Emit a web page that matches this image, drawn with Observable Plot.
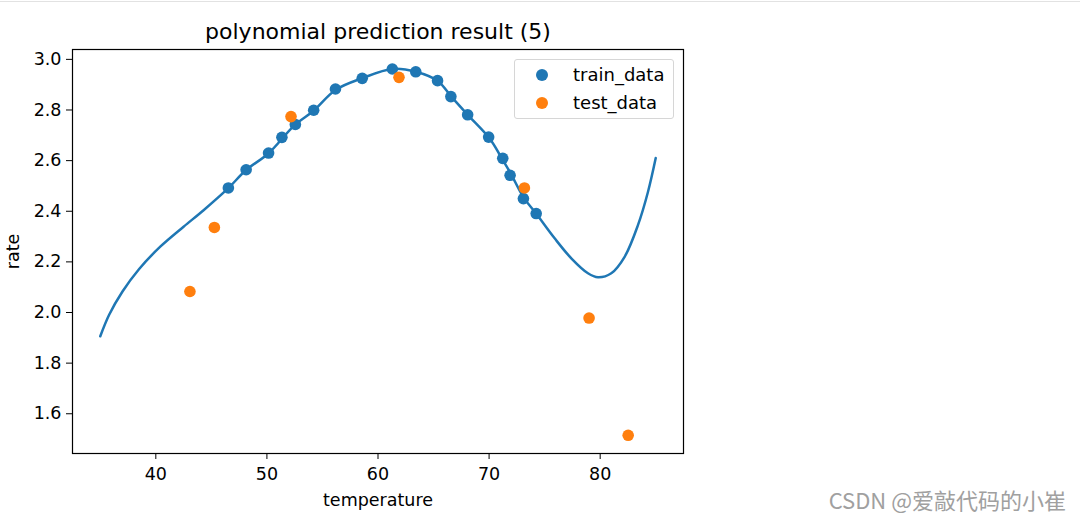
<!DOCTYPE html>
<html>
<head>
<meta charset="utf-8">
<script src="https://cdn.jsdelivr.net/npm/d3@7"></script>
<script src="https://cdn.jsdelivr.net/npm/@observablehq/plot@0.6"></script>
<style>
  html, body { margin: 0; padding: 0; background: #fff; }
  #wrap { position: relative; width: 1080px; height: 519px; overflow: hidden; font-family: "DejaVu Sans", sans-serif; }
  #topline { position: absolute; left: 0; top: 1px; width: 1080px; height: 1px; background: #e2e2e2; }
  #legend { position: absolute; left: 514px; top: 59px; width: 158px; height: 58px; border: 1px solid #d6d6d6; border-radius: 3px; background: rgba(255,255,255,0.8); }
  .lg { position: absolute; left: 0; width: 158px; height: 22px; font-size: 18px; line-height: 22px; color: #000; }
  .lg .mk { position: absolute; left: 21px; top: 5px; width: 12px; height: 12px; border-radius: 50%; }
  .lg .tx { position: absolute; left: 58px; top: 0; }
  #wm { position: absolute; right: 14px; top: 485px; font-size: 22px; line-height: 29px; color: #a0a0a0; font-family: "Noto Sans CJK SC", "DejaVu Sans", sans-serif; white-space: nowrap; }
</style>
</head>
<body>
<div id="wrap">
  <div id="chart"></div>
  <div id="topline"></div>
  <div id="legend">
    <div class="lg" style="top:4px"><span class="mk" style="background:#1f77b4"></span><span class="tx">train_data</span></div>
    <div class="lg" style="top:32px"><span class="mk" style="background:#ff7f0e"></span><span class="tx">test_data</span></div>
  </div>
  <div id="wm">CSDN @爱敲代码的小崔</div>
</div>
<script>
const titleText = "polynomial prediction result (5)";
const xLabel = "temperature";
const yLabel = "rate";
const xTicks = [40, 50, 60, 70, 80];
const yTicks = [1.6, 1.8, 2.0, 2.2, 2.4, 2.6, 2.8, 3.0];

const trainT = [46.53, 48.13, 50.15, 51.35, 52.56, 54.21, 56.17, 58.58, 61.29, 63.40, 65.36, 66.56, 68.07, 69.96, 71.23, 71.89, 73.09, 74.24];
const trainRate = [2.492, 2.564, 2.630, 2.692, 2.743, 2.799, 2.883, 2.925, 2.962, 2.951, 2.916, 2.853, 2.781, 2.693, 2.609, 2.542, 2.450, 2.391];

const testT = [43.07, 45.27, 52.17, 61.89, 73.18, 79.0, 82.52];
const testRate = [2.083, 2.336, 2.774, 2.929, 2.492, 1.978, 1.515];

const curveT = [35, 35.8, 37, 38.5, 40.4, 42.5, 44.3, 46.5, 48.1, 50.1, 52.5, 54.2, 56.2, 58.6, 61.3, 63.4, 65.4, 66.6, 68.1, 70, 71.2, 72, 73.1, 74.2, 75.9, 77.4, 78.9, 79.8, 81, 82.2, 83.4, 84.3, 85];
const curveRate = [1.906, 1.991, 2.083, 2.172, 2.26, 2.339, 2.404, 2.49, 2.562, 2.627, 2.74, 2.797, 2.88, 2.926, 2.962, 2.951, 2.914, 2.853, 2.78, 2.69, 2.605, 2.545, 2.455, 2.393, 2.293, 2.214, 2.155, 2.139, 2.155, 2.22, 2.345, 2.476, 2.61];

const train = trainT.map((t, i) => ({t, r: trainRate[i]}));
const test = testT.map((t, i) => ({t, r: testRate[i]}));
const curve = curveT.map((t, i) => ({t, r: curveRate[i]}));

const chart = Plot.plot({
  width: 1080,
  height: 519,
  marginLeft: 72,
  marginRight: 397,
  marginTop: 49,
  marginBottom: 66,
  style: { fontFamily: "DejaVu Sans, sans-serif", fontSize: "17.5px", color: "#000", background: "#fff" },
  x: { domain: [32.5, 87.5] },
  y: { domain: [1.443, 3.039] },
  marks: [
    Plot.line(curve, { x: "t", y: "r", stroke: "#1f77b4", strokeWidth: 2.5, curve: "catmull-rom" }),
    Plot.dot(train, { x: "t", y: "r", r: 5.8, fill: "#1f77b4" }),
    Plot.dot(test, { x: "t", y: "r", r: 5.8, fill: "#ff7f0e" }),
    Plot.frame({ stroke: "#000", strokeWidth: 1.2 }),
    Plot.axisX({ ticks: xTicks, tickSize: 6, tickPadding: 8, tickFormat: d => String(d), label: xLabel, labelAnchor: "center", labelArrow: "none", labelOffset: 52, fontSize: 17.5 }),
    Plot.axisY({ ticks: yTicks, tickSize: 6, tickPadding: 5, tickFormat: d => d.toFixed(1), label: yLabel, labelAnchor: "center", labelArrow: "none", labelOffset: 66, fontSize: 17.5 }),
    Plot.text([titleText], { frameAnchor: "top", dy: -18, lineAnchor: "middle", fontSize: 22, fill: "#000" })
  ]
});
document.getElementById("chart").appendChild(chart);
</script>
</body>
</html>
